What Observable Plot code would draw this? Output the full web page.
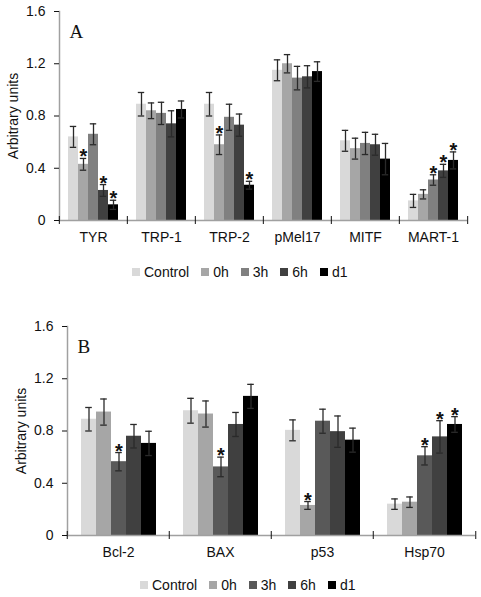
<!DOCTYPE html>
<html>
<head>
<meta charset="utf-8">
<script src="https://cdn.jsdelivr.net/npm/d3@7"></script>
<script src="https://cdn.jsdelivr.net/npm/@observablehq/plot@0.6"></script>
<style>
  html, body { margin: 0; padding: 0; background: #fff; width: 481px; height: 597px; overflow: hidden; }
  body { position: relative; font-family: "Liberation Sans", Arial, sans-serif; }
  .panel { position: absolute; left: 0; }
  .legend { position: absolute; display: flex; align-items: center; font-size: 14px; color: #111; white-space: nowrap; }
  .legend .item { display: flex; align-items: center; margin-right: 12px; }
  .legend .sw { width: 8px; height: 8px; margin-right: 4px; }
  g[aria-label="y-axis tick"], g[aria-label="fx-axis tick"] { stroke: #9a9a9a; }
  g[aria-label="y-axis label"] { font-size: 14px; }
</style>
</head>
<body>
<div id="panelA" class="panel" style="top:0px"></div>
<div id="legendA" class="legend" style="top:264px;left:132px;height:16px"></div>
<div id="panelB" class="panel" style="top:300px"></div>
<div id="legendB" class="legend" style="top:577px;left:140px;height:16px"></div>
<script>
// ---------- data ----------
const seriesNames = ["Control", "0h", "3h", "6h", "d1"];
const colorsA = ["#d9d9d9", "#a6a6a6", "#808080", "#404040", "#000000"];
const colorsB = ["#d9d9d9", "#a6a6a6", "#595959", "#404040", "#000000"];
const yTicks = [0, 0.4, 0.8, 1.2, 1.6];

// Panel A
const catsA = ["TYR", "TRP-1", "TRP-2", "pMel17", "MITF", "MART-1"];
const meanA_Control = [0.64, 0.89, 0.89, 1.15, 0.61, 0.15];
const meanA_0h      = [0.43, 0.84, 0.58, 1.20, 0.55, 0.20];
const meanA_3h      = [0.66, 0.82, 0.79, 1.09, 0.59, 0.31];
const meanA_6h      = [0.23, 0.74, 0.73, 1.10, 0.58, 0.38];
const meanA_d1      = [0.12, 0.85, 0.27, 1.14, 0.47, 0.46];
const errA_Control  = [0.08, 0.09, 0.09, 0.08, 0.08, 0.05];
const errA_0h       = [0.045, 0.06, 0.075, 0.07, 0.08, 0.035];
const errA_3h       = [0.08, 0.085, 0.10, 0.09, 0.085, 0.04];
const errA_6h       = [0.045, 0.10, 0.085, 0.085, 0.08, 0.05];
const errA_d1       = [0.035, 0.065, 0.03, 0.075, 0.12, 0.065];
const sigA_Control  = [0, 0, 0, 0, 0, 0];
const sigA_0h       = [1, 0, 1, 0, 0, 0];
const sigA_3h       = [0, 0, 0, 0, 0, 1];
const sigA_6h       = [1, 0, 0, 0, 0, 1];
const sigA_d1       = [1, 0, 1, 0, 0, 1];

// Panel B
const catsB = ["Bcl-2", "BAX", "p53", "Hsp70"];
const meanB_Control = [0.89, 0.955, 0.805, 0.24];
const meanB_0h      = [0.945, 0.93, 0.23, 0.255];
const meanB_3h      = [0.565, 0.525, 0.875, 0.61];
const meanB_6h      = [0.76, 0.85, 0.795, 0.755];
const meanB_d1      = [0.705, 1.065, 0.73, 0.85];
const errB_Control  = [0.09, 0.095, 0.08, 0.04];
const errB_0h       = [0.10, 0.10, 0.03, 0.04];
const errB_3h       = [0.07, 0.075, 0.092, 0.07];
const errB_6h       = [0.09, 0.092, 0.12, 0.124];
const errB_d1       = [0.093, 0.092, 0.092, 0.06];
const sigB_Control  = [0, 0, 0, 0];
const sigB_0h       = [0, 0, 1, 0];
const sigB_3h       = [1, 1, 0, 1];
const sigB_6h       = [0, 0, 0, 1];
const sigB_d1       = [0, 0, 0, 1];

function buildRows(cats, means, errs, sigs) {
  const rows = [];
  cats.forEach((cat, i) => {
    seriesNames.forEach((s, j) => {
      rows.push({cat, series: s, value: means[j][i], err: errs[j][i], sig: !!sigs[j][i]});
    });
  });
  return rows;
}

const rowsA = buildRows(catsA,
  [meanA_Control, meanA_0h, meanA_3h, meanA_6h, meanA_d1],
  [errA_Control, errA_0h, errA_3h, errA_6h, errA_d1],
  [sigA_Control, sigA_0h, sigA_3h, sigA_6h, sigA_d1]);
const rowsB = buildRows(catsB,
  [meanB_Control, meanB_0h, meanB_3h, meanB_6h, meanB_d1],
  [errB_Control, errB_0h, errB_3h, errB_6h, errB_d1],
  [sigB_Control, sigB_0h, sigB_3h, sigB_6h, sigB_d1]);

const font = "'Liberation Sans', Arial, sans-serif";

function panel({rows, cats, colors, letter, width, height, marginLeft, marginRight, marginTop, marginBottom, capInset, outerPad}) {
  const bw = (width - marginLeft - marginRight) / cats.length;
  return Plot.plot({
    width, height, marginLeft, marginRight, marginTop, marginBottom,
    style: {fontFamily: font, fontSize: "14px", color: "#111", background: "#fff"},
    fx: {domain: cats, padding: 0, axis: null},
    x: {domain: seriesNames, paddingInner: 0, paddingOuter: outerPad, axis: null},
    y: {domain: [0, 1.6], axis: null},
    color: {domain: seriesNames, range: colors},
    marks: [
      Plot.barY(rows, {fx: "cat", x: "series", y: "value", fill: "series"}),
      Plot.ruleX(rows, {fx: "cat", x: "series", y1: d => d.value - d.err, y2: d => d.value + d.err, stroke: "#2a2a2a", strokeWidth: 1.3}),
      Plot.tickY(rows, {fx: "cat", x: "series", y: d => d.value + d.err, stroke: "#2a2a2a", strokeWidth: 1.3, insetLeft: capInset, insetRight: capInset}),
      Plot.tickY(rows, {fx: "cat", x: "series", y: d => d.value - d.err, stroke: "#2a2a2a", strokeWidth: 1.3, insetLeft: capInset, insetRight: capInset}),
      Plot.text(rows.filter(d => d.sig), {fx: "cat", x: "series", y: d => d.value + d.err, text: () => "*", fontSize: 20, fontWeight: "bold", lineAnchor: "bottom", dy: 5, fill: "#111"}),
      Plot.ruleY([0], {stroke: "#a0a0a0", strokeWidth: 1.5}),
      Plot.frame({anchor: "left", facetAnchor: "left", stroke: "#a0a0a0", strokeWidth: 1.5}),
      Plot.axisY({ticks: yTicks, tickSize: 5, tickPadding: 9, tickFormat: d3.format("~g"), facetAnchor: "left",
                  label: "Arbitrary units", labelAnchor: "center", labelOffset: 51, labelArrow: "none", fontSize: 14}),
      Plot.axisFx({anchor: "bottom", tickSize: 0, tickPadding: 12, label: null, fontSize: 14}),
      Plot.axisFx({anchor: "bottom", tickSize: 8, dy: -4, dx: -bw / 2, tickFormat: () => "", label: null}),
      Plot.axisFx({anchor: "bottom", ticks: [cats[cats.length - 1]], tickSize: 8, dy: -4, dx: bw / 2, tickFormat: () => "", label: null}),
      Plot.text([{cat: cats[0], t: letter}], {fx: "cat", text: "t", frameAnchor: "top-left", lineAnchor: "top", dx: 10, dy: 13,
                  fontFamily: "'Liberation Serif', 'Times New Roman', serif", fontSize: 19, fill: "#111"})
    ]
  });
}

document.getElementById("panelA").append(panel({
  rows: rowsA, cats: catsA, colors: colorsA, letter: "A",
  width: 481, height: 255, marginLeft: 58, marginRight: 13, marginTop: 11, marginBottom: 35,
  capInset: 1.8, outerPad: 0.75
}));
document.getElementById("panelB").append(panel({
  rows: rowsB, cats: catsB, colors: colorsB, letter: "B",
  width: 481, height: 270, marginLeft: 66, marginRight: 5, marginTop: 26, marginBottom: 35,
  capInset: 4.2, outerPad: 0.78
}));

function legend(id, colors) {
  const el = document.getElementById(id);
  seriesNames.forEach((s, i) => {
    const item = document.createElement("div");
    item.className = "item";
    const sw = document.createElement("div");
    sw.className = "sw";
    sw.style.background = colors[i];
    const t = document.createElement("span");
    t.textContent = s;
    item.append(sw, t);
    el.append(item);
  });
}
legend("legendA", colorsA);
legend("legendB", colorsB);
</script>
</body>
</html>
